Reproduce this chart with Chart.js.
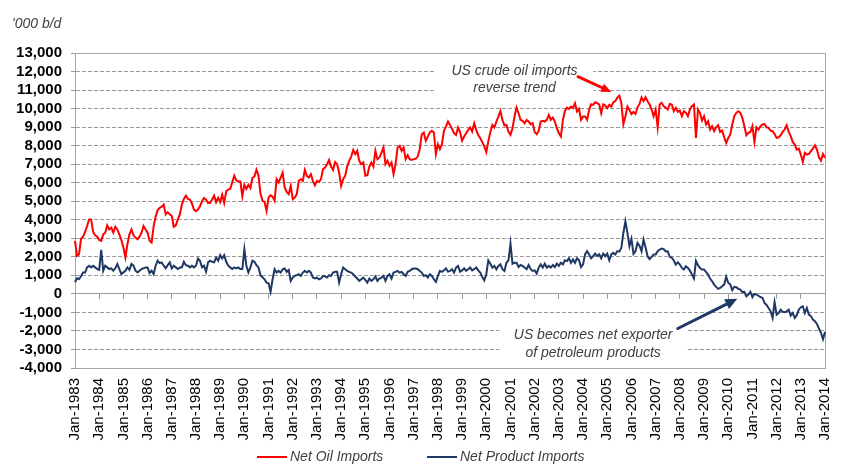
<!DOCTYPE html>
<html><head><meta charset="utf-8">
<script src="https://cdn.jsdelivr.net/npm/chart.js@4.4.0/dist/chart.umd.min.js"></script>
<style>html,body{margin:0;padding:0;background:#fff}canvas{display:block}</style>
</head><body>
<canvas id="c" width="842" height="473"></canvas>
<script>
const monthNames = ['Jan','Feb','Mar','Apr','May','Jun','Jul','Aug','Sep','Oct','Nov','Dec'];
const years = [1983,1984,1985,1986,1987,1988,1989,1990,1991,1992,1993,1994,1995,1996,1997,1998,1999,2000,2001,2002,2003,2004,2005,2006,2007,2008,2009,2010,2011,2012,2013,2014];
const categories = [];
years.forEach(y => monthNames.forEach((m, k) => { if (y < 2014 || k === 0) categories.push(m + '-' + y); }));

// Net oil imports, '000 b/d (monthly, Jan-1983 .. Jan-2014)
const netOilImports = [
 2860,2050,2140,2980,3090,3340,3660,4020,4020,3340,3160,3090,
 2910,2860,3210,3300,3700,3480,3570,3300,3620,3480,3210,2910,
 2500,1960,2680,3210,3480,3160,3040,2950,3090,3300,3660,3480,
 3300,2860,2770,3660,4160,4520,4640,4700,4820,4290,4410,4290,
 4200,3620,3700,4020,4290,4820,5120,5300,5120,5090,4880,4550,
 4460,4550,4730,5000,5180,5090,4910,4910,5090,5300,4950,5180,
 4950,5360,4910,5540,5630,5660,6020,6380,6130,6070,6070,5270,
 5890,5660,5890,5710,6250,6340,6700,6400,5400,5020,4960,4480,
 5200,5320,5250,5020,6190,6010,6280,6550,5740,5500,5380,5830,
 5110,5200,5380,6100,6190,6100,6690,6370,6280,6460,6100,5860,
 6100,6040,6190,6730,6820,7000,7230,6870,6690,7120,7000,6550,
 5830,6190,6370,6870,7180,7410,7770,7540,7720,7180,7000,7090,
 6370,6400,6870,7090,6870,7720,7270,7360,7630,7900,7000,7180,
 6910,7090,6460,7000,7900,7990,7720,7900,7270,7480,7270,7230,
 7270,7300,7410,7810,8620,8710,8260,8490,8710,8800,8710,7540,
 8080,7810,8080,8800,9030,9300,9120,8910,8670,8580,8980,8730,
 8260,8490,8670,8850,8980,8760,9210,8850,8580,8400,8190,7960,
 7650,8230,8730,9120,8980,9300,9570,9870,9390,9090,9120,8760,
 8580,8940,9570,10050,9750,9390,9340,9210,9390,9300,9160,9210,
 8730,8620,8800,9300,9340,9300,9390,9660,9390,9520,9300,8940,
 8670,8490,9390,9870,10050,9980,10110,10020,10290,9840,9980,9390,
 9570,9570,9390,9930,10230,10200,10340,10290,10230,9750,10230,10160,
 10020,10200,10110,10340,10410,10590,10700,10290,9150,9570,10110,9930,
 9710,9820,9710,10070,10250,10610,10400,10610,10400,10220,9950,9590,
 9950,8990,10220,10310,10130,10040,9950,10250,10220,9860,10040,9820,
 9890,9590,9860,9770,9590,9950,10130,10220,8420,9950,9770,9350,
 9590,9140,9320,8870,9050,8780,8990,9100,8740,8810,8450,8150,
 8420,8600,9140,9590,9770,9860,9770,9500,9050,8560,8690,8740,
 9050,8200,8990,8870,9050,9140,9170,8990,8960,8810,8780,8630,
 8420,8450,8560,8740,8870,9100,8740,8510,8200,8060,7790,7840,
 7520,7120,7610,7520,7550,7700,7840,8020,7790,7370,7190,7550,
 7340
];

// Net product imports, '000 b/d (monthly, Jan-1983 .. Jan-2014)
const netProductImports = [
 625,840,800,950,1160,1160,1430,1520,1430,1520,1430,1340,
 1300,2380,1250,1520,1430,1340,1380,1250,1380,1610,1340,1070,
 1160,1250,1430,1300,1610,1520,1250,1160,1250,1340,1380,1430,
 1430,1120,1250,1070,1520,1790,1660,1700,1520,1380,1550,1700,
 1380,1520,1430,1340,1430,1430,1730,1550,1520,1430,1520,1430,
 1520,1910,1790,1430,1520,1200,1700,1790,1730,1700,1960,1790,
 2090,1910,2090,1730,1520,1430,1340,1430,1380,1430,1340,1340,
 2410,1520,1160,1430,1790,1730,1550,1430,1000,900,790,610,
 575,110,790,1330,1150,1240,1150,1330,1370,1190,1290,700,
 880,970,1010,1060,970,1150,1240,1150,1240,1150,880,830,
 880,790,830,970,940,880,1010,970,1150,1190,1190,610,
 1060,1420,1330,1240,1190,1150,1060,940,830,700,790,880,
 755,610,830,700,790,940,700,830,880,970,700,970,
 1060,830,1150,1190,1240,1150,1190,1060,970,1190,1240,1330,
 1370,1370,1330,1240,1150,970,1010,880,1060,970,790,650,
 970,1240,1190,1270,1380,1200,1240,1330,1150,1420,1510,1200,
 1270,1380,1240,1330,1420,1270,1330,1420,1270,1150,910,730,
 1060,1810,1630,1420,1510,1330,1510,1590,1330,1240,1680,1810,
 2710,1630,1680,1680,1450,1560,1510,1420,1330,1560,1330,1240,
 1270,1090,1420,1590,1420,1630,1420,1510,1420,1560,1450,1630,
 1510,1680,1590,1810,1770,1920,1680,1860,1680,1920,1810,1450,
 1590,2130,2310,2130,1920,2040,2170,2040,2130,1920,2170,2040,
 2170,1810,2130,2220,2130,2310,2280,2490,3300,3920,3290,2570,
 2970,2160,2300,2750,2600,2300,2930,2500,2030,1880,2000,2120,
 2120,2300,2390,2450,2420,2290,2300,2000,1950,1800,1580,1710,
 1580,1400,1310,1490,1400,1260,1040,830,1780,1550,1400,1310,
 1310,1190,1040,830,680,500,380,270,320,410,500,920,
 600,510,200,380,360,270,230,90,110,-130,-40,110,
 -170,0,-40,-100,-170,-220,-490,-600,-760,-940,-1300,-450,
 -1120,-1030,-850,-970,-990,-940,-850,-1170,-1030,-1300,-1150,-850,
 -720,-670,-1030,-760,-1120,-1200,-1390,-1470,-1620,-1870,-2100,-2450,
 -2050
];

const yTicks = { min: -4000, max: 13000, step: 1000 };
const unitLabel = "'000 b/d";
const seriesNames = ['Net Oil Imports', 'Net Product Imports'];
const seriesColors = ['#ff0000', '#1f3864'];

// annotations anchored in data space: [category index, value]
const crudeNote = { lines: ['US crude oil imports', 'reverse trend'], at: [[218, 12000], [218, 11080]],
  box: [178, 12500, 257, 10500], arrowFrom: [249.5, 11720], arrowTo: [266, 10900] };
const exportNote = { lines: ['US becomes net exporter', 'of petroleum products'], at: [[257, -2200], [257, -3170]],
  box: [210.5, -1500, 303, -3700], arrowFrom: [299, -1870], arrowTo: [328.5, -260] };

const GRID = '#9a9a9a';
const FRAME = '#a6a6a6';

function drawArrow(ctx, x1, y1, x2, y2, color, w, head) {
  const ang = Math.atan2(y2 - y1, x2 - x1);
  const bx = x2 - head * Math.cos(ang), by = y2 - head * Math.sin(ang);
  ctx.save();
  ctx.strokeStyle = color; ctx.fillStyle = color; ctx.lineWidth = w; ctx.lineCap = 'round';
  ctx.beginPath(); ctx.moveTo(x1, y1); ctx.lineTo(bx, by); ctx.stroke();
  ctx.beginPath();
  ctx.moveTo(x2, y2);
  ctx.lineTo(bx + head * 0.45 * Math.sin(ang), by - head * 0.45 * Math.cos(ang));
  ctx.lineTo(bx - head * 0.45 * Math.sin(ang), by + head * 0.45 * Math.cos(ang));
  ctx.closePath(); ctx.fill();
  ctx.restore();
}

function mappers(chart) {
  const xs = chart.scales.x, ys = chart.scales.y;
  return [v => xs.getPixelForDecimal(v / (categories.length - 1)), v => ys.getPixelForValue(v)];
}

const decor = {
  id: 'decor',
  beforeDatasetsDraw(chart) {
    const { ctx, chartArea: a } = chart;
    const [px, py] = mappers(chart);
    ctx.save();
    ctx.fillStyle = '#ffffff';
    [crudeNote, exportNote].forEach(n => {
      const [x1, y1, x2, y2] = n.box;
      ctx.fillRect(px(x1), py(y1), px(x2) - px(x1), py(y2) - py(y1));
    });
    ctx.strokeStyle = FRAME; ctx.lineWidth = 1;
    ctx.strokeRect(Math.round(a.left) + 0.5, Math.round(a.top) + 0.5, Math.round(a.right - a.left), Math.round(a.bottom - a.top));
    ctx.restore();
  },
  afterDatasetsDraw(chart) {
    const { ctx } = chart;
    const [px, py] = mappers(chart);
    ctx.save();
    ctx.font = 'italic 14px "Liberation Sans"';
    ctx.fillStyle = '#404040';
    ctx.textAlign = 'center'; ctx.textBaseline = 'middle';
    [crudeNote, exportNote].forEach(n => n.lines.forEach((t, k) => ctx.fillText(t, px(n.at[k][0]), py(n.at[k][1]))));
    ctx.restore();
    drawArrow(ctx, px(crudeNote.arrowFrom[0]), py(crudeNote.arrowFrom[1]), px(crudeNote.arrowTo[0]), py(crudeNote.arrowTo[1]), seriesColors[0], 3, 10);
    drawArrow(ctx, px(exportNote.arrowFrom[0]), py(exportNote.arrowFrom[1]), px(exportNote.arrowTo[0]), py(exportNote.arrowTo[1]), seriesColors[1], 3, 12);

    ctx.save();
    ctx.font = 'italic 14px "Liberation Sans"';
    ctx.fillStyle = '#404040';
    ctx.textAlign = 'left'; ctx.textBaseline = 'middle';
    ctx.fillText(unitLabel, 12, 24);
    const items = [[257, seriesNames[0], seriesColors[0]], [427, seriesNames[1], seriesColors[1]]];
    items.forEach(([x, t, c]) => {
      ctx.strokeStyle = c; ctx.lineWidth = 2;
      ctx.beginPath(); ctx.moveTo(x, 457); ctx.lineTo(x + 30, 457); ctx.stroke();
      ctx.fillStyle = '#404040';
      ctx.fillText(t, x + 33, 457);
    });
    ctx.restore();
  }
};

new Chart(document.getElementById('c'), {
  type: 'line',
  data: {
    labels: categories,
    datasets: [
      { label: seriesNames[0], data: netOilImports, borderColor: seriesColors[0], backgroundColor: seriesColors[0], borderWidth: 2, pointRadius: 0, tension: 0, xAxisID: 'x' },
      { label: seriesNames[1], data: netProductImports, borderColor: seriesColors[1], backgroundColor: seriesColors[1], borderWidth: 2, pointRadius: 0, tension: 0, xAxisID: 'x' }
    ]
  },
  options: {
    responsive: false,
    animation: false,
    layout: { padding: { left: 0, right: 17, top: 53, bottom: 0 } },
    plugins: { legend: { display: false }, tooltip: { enabled: false } },
    scales: {
      x: {
        type: 'category', position: 'bottom', offset: false,
        grid: { display: false, drawTicks: false },
        border: { display: true, color: FRAME },
        ticks: {
          autoSkip: false, maxRotation: 90, minRotation: 90, padding: 10, color: '#000',
          font: { family: '"Liberation Sans"', size: 15 },
          callback: (v, i) => (i % 12 === 0 ? categories[i] : '')
        },
        afterFit: s => { s.height = 105; s.paddingLeft = 0; s.paddingRight = 0; }
      },
      x0: {
        type: 'category', position: { y: 0 }, offset: false,
        grid: { display: true, drawOnChartArea: false, drawTicks: true, tickLength: 5,
          tickColor: ctx => (ctx.index % 12 === 0 ? GRID : 'rgba(0,0,0,0)'),
          color: ctx => (ctx.index % 12 === 0 ? GRID : 'rgba(0,0,0,0)') },
        border: { display: true, color: GRID, width: 1 },
        ticks: { display: false },
        afterFit: s => { s.paddingLeft = 0; s.paddingRight = 0; s.paddingTop = 0; s.paddingBottom = 0; }
      },
      y: {
        min: yTicks.min, max: yTicks.max,
        grid: { color: ctx => (ctx.tick && ctx.tick.value === 0 ? 'rgba(0,0,0,0)' : GRID), tickColor: GRID, tickLength: 4, lineWidth: 1 },
        border: { display: true, color: FRAME, dash: [4, 2] },
        ticks: { stepSize: yTicks.step, autoSkip: false, padding: 9, color: '#000', font: { family: '"Liberation Sans"', size: 15, weight: 'bold' } },
        afterFit: s => { s.width = 75; s.paddingTop = 0; s.paddingBottom = 0; }
      }
    }
  },
  plugins: [decor]
});
</script>
</body></html>
